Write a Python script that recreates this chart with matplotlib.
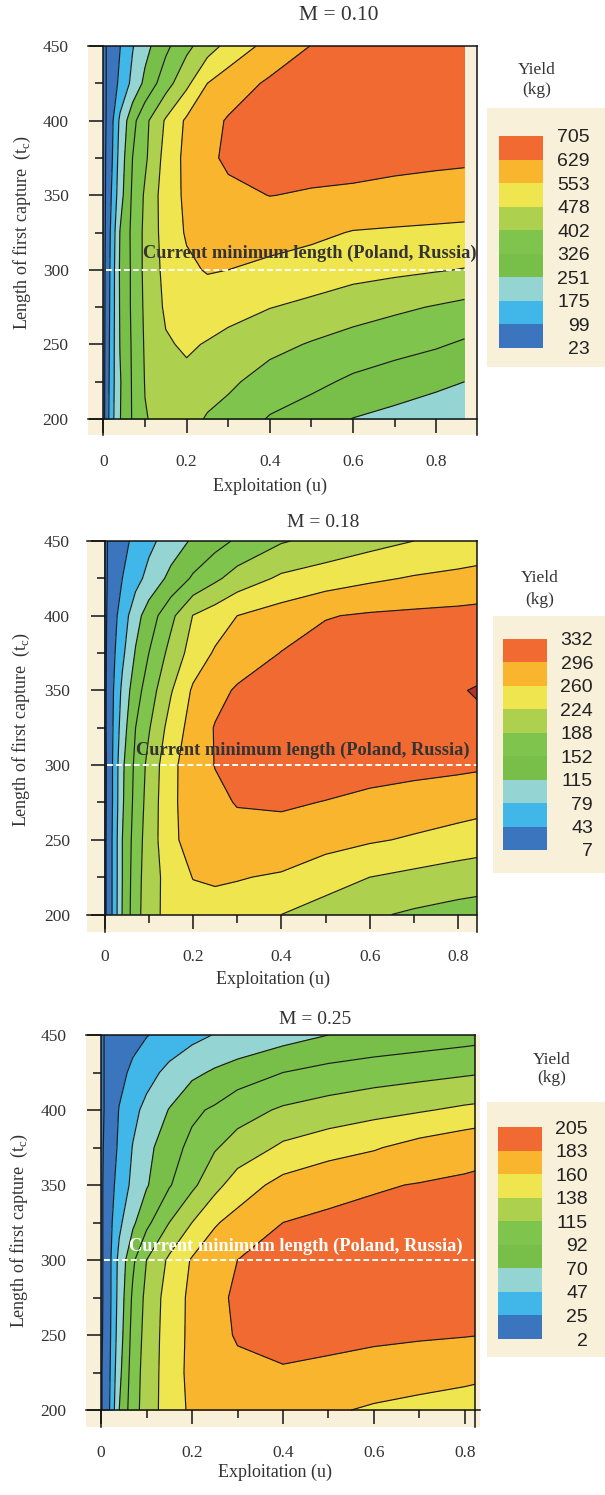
import numpy as np
import matplotlib
matplotlib.use("Agg")
import matplotlib.pyplot as plt
from matplotlib.colors import ListedColormap, BoundaryNorm
from matplotlib.cm import ScalarMappable
from matplotlib.patches import Rectangle

plt.rcParams['font.family'] = ['Liberation Serif', 'DejaVu Serif']
plt.rcParams['mathtext.fontset'] = 'custom'
plt.rcParams['mathtext.rm'] = 'Liberation Serif'

# --- data: yield (kg) ---
lengths = [200, 225, 250, 275, 300, 325, 350, 375, 400, 425, 450]
min_length = 300

u_m10 = [0, 0.01, 0.02, 0.04, 0.07, 0.1, 0.15, 0.2, 0.25, 0.3, 0.4, 0.5, 0.6, 0.7, 0.8, 0.868]
yield_m10 = [
    [0, 77, 150, 248, 332, 398, 425, 430, 395, 375, 320, 290, 249, 228, 204, 190],
    [0, 72, 145, 245, 334, 405, 450, 460, 435, 416, 370, 344, 313, 291, 269, 251],
    [0, 66, 140, 254, 336, 410, 470, 488, 473, 456, 424, 396, 371, 352, 334, 316],
    [0, 62, 135, 258, 340, 415, 490, 508, 517, 504, 480, 462, 437, 416, 397, 383],
    [0, 58, 132, 261, 340, 420, 500, 540, 558, 553, 532, 518, 504, 494, 483, 475],
    [0, 51, 124, 254, 344, 419, 510, 560, 580, 592, 590, 570, 549, 543, 538, 535],
    [0, 46, 105, 221, 338, 412, 517, 566, 590, 615, 630, 624, 620, 612, 604, 598],
    [0, 42, 89, 208, 326, 389, 506, 572, 616, 640, 648, 650, 648, 645, 642, 640],
    [0, 36, 81, 191, 302, 382, 487, 565, 606, 635, 650, 664, 674, 680, 684, 686],
    [0, 34, 61, 115, 195, 269, 370, 460, 553, 592, 640, 656, 668, 678, 684, 686],
    [0, 34, 55, 97, 170, 227, 309, 382, 445, 500, 579, 631, 650, 665, 675, 680],
]
levels_m10 = [23, 99, 175, 251, 326, 402, 478, 553, 629, 705]

u_m18 = [0, 0.01, 0.02, 0.04, 0.07, 0.1, 0.15, 0.2, 0.25, 0.3, 0.4, 0.5, 0.6, 0.7, 0.8, 0.843]
yield_m18 = [
    [0, 22, 53, 117, 176, 207, 240, 246, 248, 244, 224, 210, 193, 183, 176, 174],
    [0, 22, 53, 115, 174, 206, 240, 261, 264, 262, 256, 238, 224, 215, 206, 203],
    [0, 22, 53, 115, 170, 205, 251, 276, 280, 283, 284, 274, 264, 256, 247, 243],
    [0, 19, 50, 110, 165, 202, 253, 276, 288, 298, 300, 295, 288, 282, 276, 273],
    [0, 18, 50, 108, 161, 198, 252, 277, 297, 308, 313, 312, 309, 306, 303, 301],
    [0, 21, 46, 97, 152, 185, 239, 274, 298, 310, 322, 326, 328, 329, 329, 329],
    [0, 20, 43, 87, 137, 170, 221, 265, 285, 300, 315, 322, 326, 329, 331, 333],
    [0, 18, 37, 71, 118, 152, 200, 239, 264, 276, 297, 310, 317, 321, 324, 325],
    [0, 15, 31, 60, 101, 133, 179, 225, 242, 260, 276, 294, 300, 303, 305, 306],
    [0, 12, 22, 43, 67, 90, 125, 157, 181, 203, 230, 242, 254, 263, 270, 274],
    [0, 11, 18, 33, 52, 70, 96, 120, 139, 157, 185, 199, 212, 224, 230, 233],
]
levels_m18 = [7, 43, 79, 115, 152, 188, 224, 260, 296, 332]

u_m25 = [0, 0.01, 0.02, 0.04, 0.07, 0.1, 0.15, 0.2, 0.25, 0.3, 0.4, 0.5, 0.6, 0.7, 0.8, 0.822]
yield_m25 = [
    [0, 9, 27, 70, 105, 126, 149, 164, 168, 170, 168, 163, 157, 153, 150, 149],
    [0, 9, 25, 64, 103, 125, 149, 166, 173, 178, 181, 178, 174, 170, 166, 165],
    [0, 6, 23, 59, 100, 123, 149, 165, 176, 185, 190, 189, 187, 185.5, 184, 183.5],
    [0, 5, 22, 56, 96, 121, 148, 165, 177, 187, 194, 195, 195, 194, 193, 193],
    [0, 5, 22, 54, 88, 115, 142, 162, 172, 183, 190, 193, 194, 194, 193, 193],
    [0, 5, 20, 42, 66, 86, 115, 138, 158, 167, 183, 187, 189, 190, 190, 190],
    [0, 5, 17, 34, 52, 68, 90, 110, 131, 149, 167, 176, 181, 184, 186, 186],
    [0, 4, 13, 29, 48, 63, 84, 97, 113, 124, 142, 151, 158, 168, 176, 178],
    [0, 3, 11, 26, 41, 53, 71, 88, 95, 106, 118, 125, 131, 136, 142, 143],
    [0, 3, 7, 18, 30, 39, 53, 65, 73, 80, 92, 99, 104, 108, 112, 113],
    [0, 3, 5.5, 10, 17.5, 24, 32.5, 40.5, 48, 52, 61, 70, 75, 79, 83, 84],
]
levels_m25 = [2, 25, 47, 70, 92, 115, 138, 160, 183, 205]

titles = ['M = 0.10', 'M = 0.18', 'M = 0.25']

# band colours, lowest to highest
band_colors = ['#3a75bd', '#41b6e8', '#94d4d2', '#78bf4a', '#7ec44d',
               '#add04f', '#efe64f', '#f9b52e', '#f06a31']
over_color = '#b8302a'
cream = '#f9f0da'
ink = '#333333'

W, H = 605, 1495
fig = plt.figure(figsize=(W / 100, H / 100), dpi=100)


def fig_box(l, r, t, b):
    # pixel box -> figure fraction
    return [l / W, 1 - b / H, (r - l) / W, (b - t) / H]


# layout of each panel, in pixels of the 605x1495 picture
layout = [
    dict(ax=(88, 477, 46, 435), xlim=(-0.037, 0.898), ybot=189.3, rspine=None,
         title=(339, 15, 15.5), ylab=(-0.141, 0.52), xlab=(0.468, -0.11),
         box=(487, 605, 108, 367), cax=(499, 543, 136, 348), lab_right=590,
         ytitle=(537, 70, 90), note=(0.095, 311), note_color=ink),
    dict(ax=(87, 477, 541, 932), xlim=(-0.04, 0.843), ybot=188.3, rspine=None,
         title=(323, 523, 14), ylab=(-0.141, 0.517), xlab=(0.477, -0.10),
         box=(493, 605, 616, 873), cax=(503, 547, 639, 850), lab_right=593,
         ytitle=(540, 578, 600), note=(0.07, 310), note_color=ink),
    dict(ax=(86, 480, 1035, 1427), xlim=(-0.033, 0.833), ybot=188.7, rspine=0.822,
         title=(315, 1020, 14), ylab=(-0.142, 0.50), xlab=(0.48, -0.094),
         box=(487, 605, 1102, 1357), cax=(498, 542, 1127, 1339), lab_right=588,
         ytitle=(552, 1060, 1078), note=(0.061, 309), note_color='white'),
]

datasets = [(u_m10, yield_m10, levels_m10),
            (u_m18, yield_m18, levels_m18),
            (u_m25, yield_m25, levels_m25)]

for (u, z, levels), title, lay in zip(datasets, titles, layout):
    ax = fig.add_axes(fig_box(*lay['ax']))
    ax.set_facecolor(cream)
    X, Y = np.meshgrid(u, lengths)
    Z = np.array(z, dtype=float)

    fill_levels = [-1e4] + levels + [1e5]
    fill_colors = [band_colors[0]] + band_colors + [over_color]
    ax.contourf(X, Y, Z, levels=fill_levels, colors=fill_colors)
    ax.contour(X, Y, Z, levels=levels, colors='#1c1c1c', linewidths=0.85)

    ax.hlines(min_length, 0.006, u[-1], colors='white', linewidth=1.4,
              linestyles=(0, (3, 1.6)))
    ax.text(lay['note'][0], lay['note'][1], 'Current minimum length (Poland, Russia)',
            fontsize=13.2, fontweight='bold', color=lay['note_color'], va='center')

    ax.set_xlim(*lay['xlim'])
    ax.set_ylim(lay['ybot'], 450)

    ax.spines['left'].set_position(('data', 0))
    ax.spines['bottom'].set_position(('data', 200))
    if lay['rspine'] is not None:
        ax.spines['right'].set_position(('data', lay['rspine']))
        ax.spines['top'].set_bounds(lay['xlim'][0], lay['rspine'])
    for s in ax.spines.values():
        s.set_linewidth(1.1)
        s.set_color('#111111')

    ax.set_xticks([0, 0.2, 0.4, 0.6, 0.8])
    ax.set_xticklabels(['0', '0.2', '0.4', '0.6', '0.8'])
    ax.set_xticks([0.1, 0.3, 0.5, 0.7], minor=True)
    ax.set_yticks([200, 250, 300, 350, 400, 450])
    ax.set_yticks([225, 275, 325, 375, 425], minor=True)
    ax.tick_params(which='major', direction='out', length=10, width=1.1,
                   labelsize=12.5, colors='#111111', labelcolor=ink)
    ax.tick_params(which='minor', direction='out', length=5.5, width=1.1, colors='#111111')
    ax.tick_params(axis='x', which='major', pad=15)
    ax.tick_params(axis='y', which='major', pad=15)

    ax.set_ylabel(r'Length of first capture  (t$_{\mathrm{c}}$)', fontsize=13, color=ink)
    ax.yaxis.set_label_coords(*lay['ylab'])
    ax.set_xlabel('Exploitation (u)', fontsize=13, color=ink)
    ax.xaxis.set_label_coords(*lay['xlab'])

    tx, ty, tsize = lay['title']
    fig.text(tx / W, 1 - ty / H, title, fontsize=tsize, color=ink, ha='center', va='center')

    # legend: cream box, title and colour swatches
    bl, br, bt, bb = lay['box']
    fig.add_artist(Rectangle((bl / W, 1 - bb / H), (br - bl) / W, (bb - bt) / H,
                             transform=fig.transFigure, facecolor=cream,
                             edgecolor='none', zorder=0))
    cx, y1, y2 = lay['ytitle']
    fig.text(cx / W, 1 - y1 / H, 'Yield', fontsize=12.5, color=ink, ha='center', va='center')
    fig.text(cx / W, 1 - y2 / H, '(kg)', fontsize=12.5, color=ink, ha='center', va='center')

    cax = fig.add_axes(fig_box(*lay['cax']))
    sm = ScalarMappable(norm=BoundaryNorm(levels, len(band_colors)),
                        cmap=ListedColormap(band_colors))
    cb = fig.colorbar(sm, cax=cax, ticks=levels)
    cb.set_ticklabels([str(v) for v in levels])
    cb.outline.set_visible(False)
    pad_pt = (lay['lab_right'] - lay['cax'][1]) * 0.72
    cax.tick_params(length=0, pad=pad_pt, labelsize=14, labelcolor='#222222')
    for lab in cax.get_yticklabels():
        lab.set_horizontalalignment('right')
        lab.set_family(['Liberation Sans', 'DejaVu Sans'])

fig.savefig('out.png', dpi=100)
